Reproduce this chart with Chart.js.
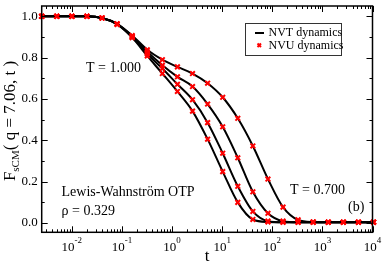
<!DOCTYPE html>
<html>
<head>
<meta charset="utf-8">
<script src="https://cdn.jsdelivr.net/npm/chart.js@4.4.1/dist/chart.umd.min.js"></script>
<style>
  body { margin: 0; background: #fff; }
  canvas { display: block; }
</style>
</head>
<body>
<canvas id="fs-chart" width="382" height="264"></canvas>
<script>
// Time grid (doubling steps)
const times = [0.0025, 0.005, 0.01, 0.02, 0.04, 0.08, 0.16, 0.32, 0.64, 1.28, 2.56, 5.12,
  10.24, 20.48, 40.96, 81.92, 163.84, 327.68, 655.36, 1310.72, 2621.44, 5242.88, 10485.76];

// F_sCM(q, t) for the four temperatures, slowest (T = 0.700) first
const fsLowT = [1, 1, 1, 1, 0.992, 0.964, 0.907, 0.838, 0.790, 0.755, 0.723, 0.676,
  0.608, 0.506, 0.372, 0.212, 0.076, 0.014, 0.004, 0.003, 0.003, 0.003, 0.003];
const fsMidLow = [1, 1, 1, 1, 0.992, 0.963, 0.903, 0.828, 0.763, 0.707, 0.660, 0.575,
  0.465, 0.315, 0.150, 0.046, 0.008, 0.003, 0.003, 0.003, 0.003, 0.003, 0.003];
const fsMidHigh = [1, 1, 1, 1, 0.992, 0.962, 0.900, 0.818, 0.747, 0.671, 0.596, 0.485,
  0.337, 0.177, 0.055, 0.008, 0.003, 0.003, 0.003, 0.003, 0.003, 0.003, 0.003];
const fsHighT = [1, 1, 1, 1, 0.992, 0.961, 0.897, 0.808, 0.723, 0.636, 0.541, 0.405,
  0.248, 0.099, 0.016, 0.004, 0.003, 0.003, 0.003, 0.003, 0.003, 0.003, 0.003];

const allCurves = [fsLowT, fsMidLow, fsMidHigh, fsHighT];

// Axis ticks
const xExponents = [-2, -1, 0, 1, 2, 3, 4];
const yTicks = [0.0, 0.2, 0.4, 0.6, 0.8, 1.0];
const yMinorTicks = [0.1, 0.3, 0.5, 0.7, 0.9];

const serif = '"Liberation Serif", "DejaVu Serif", serif';

function toPoints(values) {
  return times.map((t, i) => ({ x: t, y: values[i] }));
}

let datasets = [];
allCurves.forEach(function (curve) {
  // NVT dynamics: black line
  datasets.push({
    data: toPoints(curve),
    showLine: true,
    borderColor: '#000',
    borderWidth: 2,
    pointRadius: 0,
    cubicInterpolationMode: 'monotone',
    order: 2
  });
  // NVU dynamics: red crosses
  datasets.push({
    data: toPoints(curve),
    showLine: false,
    pointStyle: 'crossRot',
    pointRadius: 3.3,
    pointBorderWidth: 2,
    pointBorderColor: '#ff0000',
    pointBackgroundColor: '#ff0000',
    clip: false,
    order: 1
  });
});

// Frame, inward ticks, labels and annotations
const decorations = {
  id: 'decorations',
  afterDraw(chart) {
    const ctx = chart.ctx;
    const area = chart.chartArea;
    const xs = chart.scales.x;
    const ys = chart.scales.y;
    ctx.save();

    // frame
    ctx.strokeStyle = '#000';
    ctx.lineWidth = 1.5;
    ctx.strokeRect(area.left, area.top, area.right - area.left, area.bottom - area.top);

    // x ticks (top and bottom)
    ctx.lineWidth = 1;
    ctx.beginPath();
    for (let e = -3; e <= 4; e++) {
      for (let m = 1; m <= 9; m++) {
        const v = m * Math.pow(10, e);
        if (v < xs.min || v > xs.max) continue;
        const px = Math.round(xs.getPixelForValue(v)) + 0.5;
        const len = m === 1 ? 6 : 3;
        ctx.moveTo(px, area.bottom);
        ctx.lineTo(px, area.bottom - len);
        ctx.moveTo(px, area.top);
        ctx.lineTo(px, area.top + len);
      }
    }
    // y ticks (left and right)
    yTicks.concat(yMinorTicks).forEach(function (v) {
      const py = Math.round(ys.getPixelForValue(v)) + 0.5;
      const len = yTicks.includes(v) ? 6 : 3;
      ctx.moveTo(area.left, py);
      ctx.lineTo(area.left + len, py);
      ctx.moveTo(area.right, py);
      ctx.lineTo(area.right - len, py);
    });
    ctx.stroke();

    ctx.fillStyle = '#000';

    // y tick labels
    ctx.font = '13px ' + serif;
    ctx.textAlign = 'right';
    ctx.textBaseline = 'middle';
    yTicks.forEach(function (v) {
      ctx.fillText(v.toFixed(1), area.left - 4, ys.getPixelForValue(v));
    });

    // x tick labels 10^n
    ctx.textAlign = 'left';
    ctx.textBaseline = 'alphabetic';
    xExponents.forEach(function (e) {
      const px = xs.getPixelForValue(Math.pow(10, e));
      ctx.font = '13px ' + serif;
      const baseW = ctx.measureText('10').width;
      ctx.font = '9px ' + serif;
      const expW = ctx.measureText(String(e)).width;
      const start = px - (baseW + expW) / 2;
      ctx.font = '13px ' + serif;
      ctx.fillText('10', start, 251);
      ctx.font = '9px ' + serif;
      ctx.fillText(String(e), start + baseW, 243);
    });

    // x axis title
    ctx.font = '17px ' + serif;
    ctx.textAlign = 'center';
    ctx.fillText('t', (area.left + area.right) / 2, 261);

    // y axis title with subscript
    ctx.save();
    ctx.translate(15, 121);
    ctx.rotate(-Math.PI / 2);
    ctx.textAlign = 'left';
    ctx.font = '17px ' + serif;
    const wF = ctx.measureText('F').width;
    const rest = '( q = 7.06, t )';
    const wRest = ctx.measureText(rest).width;
    ctx.font = '11px ' + serif;
    const wSub = ctx.measureText('sCM').width;
    let x0 = -(wF + wSub + wRest) / 2;
    ctx.font = '17px ' + serif;
    ctx.fillText('F', x0, 0);
    ctx.font = '11px ' + serif;
    ctx.fillText('sCM', x0 + wF, 4);
    ctx.font = '17px ' + serif;
    ctx.fillText(rest, x0 + wF + wSub, 0);
    ctx.restore();

    // annotations
    ctx.font = '14px ' + serif;
    ctx.textAlign = 'left';
    ctx.textBaseline = 'middle';
    ctx.fillText('T = 1.000', 86, 68);
    ctx.fillText('T = 0.700', 290, 190);
    ctx.fillText('(b)', 348, 207);
    ctx.fillText('Lewis-Wahnström OTP', 61.5, 192);
    ctx.fillText('ρ = 0.329', 61.5, 211);

    // legend box
    ctx.fillStyle = '#fff';
    ctx.fillRect(245, 23, 97, 33);
    ctx.strokeStyle = '#333';
    ctx.lineWidth = 1;
    ctx.strokeRect(245.5, 23.5, 96, 32);
    ctx.strokeStyle = '#000';
    ctx.lineWidth = 2;
    ctx.beginPath();
    ctx.moveTo(255, 33);
    ctx.lineTo(264, 33);
    ctx.stroke();
    ctx.strokeStyle = '#ff0000';
    ctx.beginPath();
    ctx.moveTo(257.5, 43.5);
    ctx.lineTo(261, 47);
    ctx.moveTo(261, 43.5);
    ctx.lineTo(257.5, 47);
    ctx.stroke();
    ctx.fillStyle = '#000';
    ctx.font = '12px ' + serif;
    ctx.fillText('NVT dynamics', 268.5, 33);
    ctx.fillText('NVU dynamics', 268.5, 45.5);

    ctx.restore();
  }
};

let ctx = document.getElementById('fs-chart').getContext('2d');
let fsChart = new Chart(ctx, {
  type: 'scatter',
  data: { datasets: datasets },
  options: {
    responsive: false,
    animation: false,
    devicePixelRatio: 1,
    layout: { padding: { left: 41.7, top: 1.7, right: 9.5, bottom: 31.7 } },
    plugins: { legend: { display: false }, tooltip: { enabled: false } },
    scales: {
      x: { type: 'logarithmic', min: 0.0025, max: 10000, display: false },
      y: { type: 'linear', min: -0.046, max: 1.05, display: false }
    }
  },
  plugins: [decorations]
});
</script>
</body>
</html>
